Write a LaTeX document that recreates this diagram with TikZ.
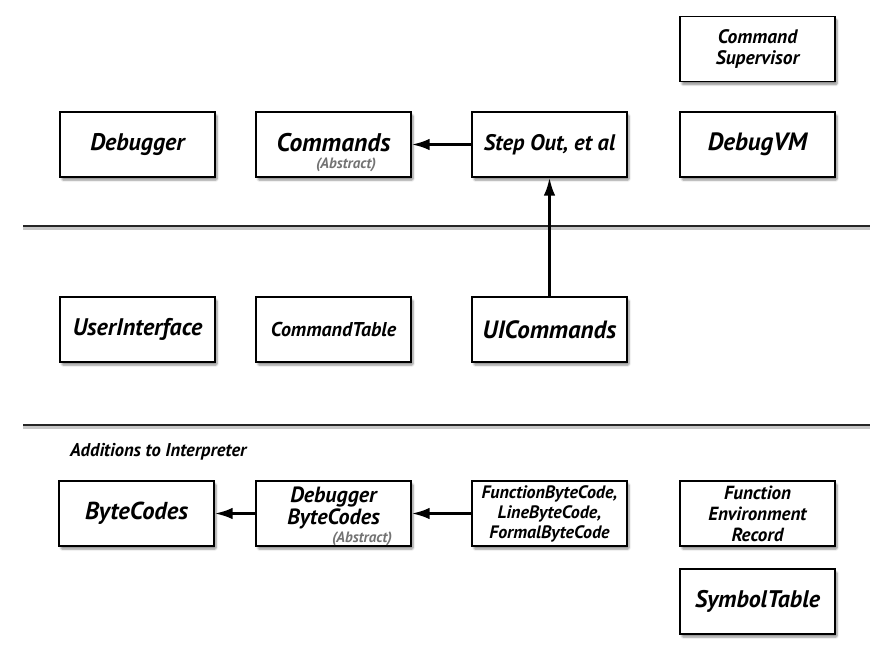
\documentclass[tikz,border=0pt]{standalone}
\usepackage{fontspec}
\setmainfont{PT Sans}
\usetikzlibrary{arrows.meta,shadows.blur}
\newcommand{\bfs}[2]{\bfseries\itshape\fontsize{#1}{#2}\selectfont}
\tikzset{
  box/.style={draw=black, line width=1.2pt, fill=white, minimum width=155pt, minimum height=65pt,
    inner sep=2pt, align=center, font=\bfs{24}{26},
    blur shadow={shadow xshift=2pt, shadow yshift=-3pt, shadow blur steps=6, shadow blur extra rounding=1pt, shadow opacity=45}},
  abstr/.style={font=\bfs{15}{16}, text=black!55, inner sep=0pt},
  arr/.style={line width=2.8pt, -{Latex[length=18pt,width=11.5pt]}},
  rule/.style={line width=2.4pt, draw=black!85},
  ruleshadow/.style={line width=3pt, draw=black!22},
}
\begin{document}
\begin{tikzpicture}[x=1pt,y=-1pt]
\useasboundingbox (0,0) rectangle (888,650);
% separator lines
\coordinate (l1a) at (23,226); \coordinate (l1b) at (870,226);
\coordinate (l2a) at (23,425); \coordinate (l2b) at (870,425);
\draw[ruleshadow] ([yshift=-2.5pt]l1a) -- ([yshift=-2.5pt]l1b);
\draw[ruleshadow] ([yshift=-2.5pt]l2a) -- ([yshift=-2.5pt]l2b);
\draw[rule] (l1a) -- (l1b);
\draw[rule] (l2a) -- (l2b);
% top row
\node[box, font=\bfs{19.5}{21}] (sup) at (757.5,49) {Command\\Supervisor};
\node[box] (dbg) at (137.5,144.5) {Debugger};
\node[box, font=\bfs{25.5}{26}, text depth=4pt] (cmd) at (333.5,144.5) {Commands};
\node[abstr] (cmdab) at (346,164.5) {(Abstract)};
\node[box, font=\bfs{22.5}{24}] (step) at (549.5,144.5) {Step Out, et al};
\node[box, font=\bfs{25}{26}] (dvm) at (757.5,144.5) {DebugVM};
% middle row
\node[box] (ui) at (137.5,329.5) {UserInterface};
\node[box, font=\bfs{20}{22}] (ctab) at (333.5,329.5) {CommandTable};
\node[box, font=\bfs{25}{26}] (uic) at (549.5,329.5) {UICommands};
% label
\node[font=\bfs{18.5}{20}, anchor=west, inner sep=0pt] (add) at (70,452) {Additions to Interpreter};
% bottom row
\node[box, font=\bfs{24.5}{26}] (bc) at (136.5,513.5) {ByteCodes};
\node[box, font=\bfs{22}{22}] (dbc) at (333.5,513.5) {Debugger\\ByteCodes\\[-12pt]\strut};
\node[abstr] (dbcab) at (362,538.5) {(Abstract)};
\node[box, font=\bfs{18}{20}] (fbc) at (549.5,513.5) {FunctionByteCode,\\LineByteCode,\\FormalByteCode};
\node[box, font=\bfs{19}{21}] (fer) at (757.5,513.5) {Function\\Environment\\Record};
\node[box] (sym) at (757.5,601.5) {SymbolTable};
% arrows
\draw[arr] (step.west) -- (cmd.east);
\draw[arr] (uic.north) -- (step.south);
\draw[arr] (dbc.west) -- (bc.east);
\draw[arr] (fbc.west) -- (dbc.east);
\end{tikzpicture}
\end{document}
